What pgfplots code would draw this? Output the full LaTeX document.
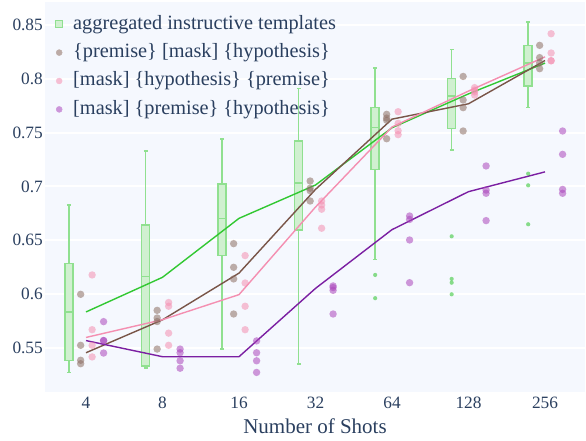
\documentclass[border=0pt]{standalone}
\usepackage{fontspec}
\setmainfont{Liberation Serif}
\usepackage{pgfplots}
\pgfplotsset{compat=1.18}
\definecolor{txt}{RGB}{42,63,95}
\definecolor{bgc}{RGB}{245,248,254}
\definecolor{boxline}{RGB}{144,224,144}
\definecolor{boxfill}{RGB}{208,240,208}
\definecolor{gline}{RGB}{50,200,50}
\definecolor{bline}{RGB}{121,85,72}
\definecolor{pline}{RGB}{244,143,177}
\definecolor{uline}{RGB}{123,31,162}
\definecolor{bpt}{RGB}{188,171,166}
\definecolor{ppt}{RGB}{245,190,211}
\definecolor{upt}{RGB}{204,150,218}
\definecolor{bbase}{RGB}{141,110,99}
\definecolor{pbase}{RGB}{244,143,177}
\definecolor{ubase}{RGB}{171,71,188}
\definecolor{gpt}{RGB}{60,200,60}
\begin{document}
\begin{tikzpicture}
\path[use as bounding box] (0pt,0pt) rectangle (586pt,441pt);
\begin{axis}[
  at={(45pt,49pt)}, anchor=south west,
  scale only axis, width=540pt, height=390pt,
  xmin=-0.536, xmax=6.523, ymin=0.5089, ymax=0.8714,
  axis background/.style={fill=bgc},
  axis line style={draw=none},
  tick style={draw=none},
  xtick={0,1,2,3,4,5,6}, xticklabels={4,8,16,32,64,128,256},
  ytick={0.55,0.6,0.65,0.7,0.75,0.8,0.85},
  yticklabels={0.55,0.6,0.65,0.7,0.75,0.8,0.85},
  ymajorgrids, grid style={white, line width=2pt},
  ticklabel style={font=\fontsize{17.3}{20}\selectfont, text=txt},
  xticklabel style={anchor=base, yshift=-17pt},
  yticklabel style={inner xsep=2pt},
  xlabel={Number of Shots},
  xlabel style={font=\fontsize{21}{24}\selectfont, text=txt, at={(axis description cs:0.5,0)}, anchor=base, yshift=-42pt},
  legend style={at={(axis description cs:0,1)}, anchor=north west, xshift=7pt, yshift=-9pt,
    draw=none, fill=none, font=\fontsize{20.3}{24}\selectfont, text=txt,
    nodes={text height=14pt, text depth=4pt, inner sep=2pt},
    row sep=6.4pt, cells={anchor=west},
    /tikz/every odd column/.append style={column sep=8pt}},
  legend cell align=left,
  unbounded coords=jump,
]
\addlegendimage{legend image code/.code={\draw[boxline, fill=boxfill, line width=1pt] (0pt,-3.5pt) rectangle (7pt,3.5pt);}}
\addlegendentry{aggregated instructive templates}
\addlegendimage{legend image code/.code={\fill[bpt] (3.5pt,0pt) circle (3pt);}}
\addlegendentry{\relax\{premise\} [mask] \{hypothesis\}}
\addlegendimage{legend image code/.code={\fill[ppt] (3.5pt,0pt) circle (3pt);}}
\addlegendentry{\relax[mask] \{hypothesis\} \{premise\}}
\addlegendimage{legend image code/.code={\fill[upt] (3.5pt,0pt) circle (3pt);}}
\addlegendentry{\relax[mask] \{premise\} \{hypothesis\}}

% boxes (Q1 to Q3), half width 0.0525 around x-0.22
\pgfplotsset{mybox/.style={forget plot, draw=boxline, fill=boxfill, line width=1.5pt}}
\addplot[mybox] coordinates {(-0.2725,0.5384) (-0.1675,0.5384) (-0.1675,0.6282) (-0.2725,0.6282)} -- cycle;
\addplot[mybox] coordinates {(0.7275,0.5330) (0.8325,0.5330) (0.8325,0.6640) (0.7275,0.6640)} -- cycle;
\addplot[mybox] coordinates {(1.7275,0.6357) (1.8325,0.6357) (1.8325,0.7024) (1.7275,0.7024)} -- cycle;
\addplot[mybox] coordinates {(2.7275,0.6595) (2.8325,0.6595) (2.8325,0.7424) (2.7275,0.7424)} -- cycle;
\addplot[mybox] coordinates {(3.7275,0.7158) (3.8325,0.7158) (3.8325,0.7732) (3.7275,0.7732)} -- cycle;
\addplot[mybox] coordinates {(4.7275,0.7537) (4.8325,0.7537) (4.8325,0.8001) (4.7275,0.8001)} -- cycle;
\addplot[mybox] coordinates {(5.7275,0.7933) (5.8325,0.7933) (5.8325,0.8311) (5.7275,0.8311)} -- cycle;
% medians, whiskers and caps
\addplot[forget plot, draw=boxline, line width=1.6pt] coordinates {
 (-0.2725,0.5833) (-0.1675,0.5833) (nan,nan)
 (-0.22,0.6282) (-0.22,0.6827) (nan,nan) (-0.245,0.6827) (-0.195,0.6827) (nan,nan)
 (-0.22,0.5384) (-0.22,0.5271) (nan,nan) (-0.245,0.5271) (-0.195,0.5271) (nan,nan)
 (0.7275,0.6161) (0.8325,0.6161) (nan,nan)
 (0.78,0.6640) (0.78,0.7330) (nan,nan) (0.755,0.7330) (0.805,0.7330) (nan,nan)
 (0.78,0.5330) (0.78,0.5310) (nan,nan) (0.755,0.5310) (0.805,0.5310) (nan,nan)
 (1.7275,0.6703) (1.8325,0.6703) (nan,nan)
 (1.78,0.7024) (1.78,0.7443) (nan,nan) (1.755,0.7443) (1.805,0.7443) (nan,nan)
 (1.78,0.6357) (1.78,0.5488) (nan,nan) (1.755,0.5488) (1.805,0.5488) (nan,nan)
 (2.7275,0.7029) (2.8325,0.7029) (nan,nan)
 (2.78,0.7424) (2.78,0.7911) (nan,nan) (2.755,0.7911) (2.805,0.7911) (nan,nan)
 (2.78,0.6595) (2.78,0.5347) (nan,nan) (2.755,0.5347) (2.805,0.5347) (nan,nan)
 (3.7275,0.7549) (3.8325,0.7549) (nan,nan)
 (3.78,0.7732) (3.78,0.8098) (nan,nan) (3.755,0.8098) (3.805,0.8098) (nan,nan)
 (3.78,0.7158) (3.78,0.6322) (nan,nan) (3.755,0.6322) (3.805,0.6322) (nan,nan)
 (4.7275,0.7840) (4.8325,0.7840) (nan,nan)
 (4.78,0.8001) (4.78,0.8273) (nan,nan) (4.755,0.8273) (4.805,0.8273) (nan,nan)
 (4.78,0.7537) (4.78,0.7336) (nan,nan) (4.755,0.7336) (4.805,0.7336) (nan,nan)
 (5.7275,0.8149) (5.8325,0.8149) (nan,nan)
 (5.78,0.8311) (5.78,0.8528) (nan,nan) (5.755,0.8528) (5.805,0.8528) (nan,nan)
 (5.78,0.7933) (5.78,0.7732) (nan,nan) (5.755,0.7732) (5.805,0.7732)
};
% outliers
\addplot[forget plot, only marks, mark=*, mark size=2.1pt, mark options={draw opacity=0, fill=gpt, fill opacity=0.6}] coordinates {
 (3.78,0.6177) (3.78,0.5961)
 (4.78,0.6536) (4.78,0.6140) (4.78,0.6105) (4.78,0.5997)
 (5.78,0.7118) (5.78,0.7010) (5.78,0.6648)};
% points
\addplot[forget plot, only marks, mark=*, mark size=3.7pt, mark options={draw opacity=0, fill=bbase, fill opacity=0.55}] coordinates {
 (-0.07,0.5997) (-0.07,0.5523) (-0.07,0.5384) (-0.07,0.5352)
 (0.93,0.5848) (0.93,0.5777) (0.93,0.5744) (0.93,0.5488)
 (1.93,0.6468) (1.93,0.6248) (1.93,0.6140) (1.93,0.5814)
 (2.93,0.7050) (2.93,0.6983) (2.93,0.6960) (2.93,0.6864)
 (3.93,0.7670) (3.93,0.7635) (3.93,0.7615) (3.93,0.7443)
 (4.93,0.8022) (4.93,0.7803) (4.93,0.7732) (4.93,0.7515)
 (5.93,0.8311) (5.93,0.8197) (5.93,0.8148) (5.93,0.8094)};
\addplot[forget plot, only marks, mark=*, mark size=3.7pt, mark options={draw opacity=0, fill=pbase, fill opacity=0.55}] coordinates {
 (0.08,0.6177) (0.08,0.5668) (0.08,0.5523) (0.08,0.5415)
 (1.08,0.5921) (1.08,0.5886) (1.08,0.5636) (1.08,0.5523)
 (2.08,0.6357) (2.08,0.6102) (2.08,0.5886) (2.08,0.5668)
 (3.08,0.6864) (3.08,0.6827) (3.08,0.6788) (3.08,0.6611)
 (4.08,0.7694) (4.08,0.7586) (4.08,0.7517) (4.08,0.7481)
 (5.08,0.7918) (5.08,0.7895) (5.08,0.7878) (5.08,0.7849)
 (6.08,0.8419) (6.08,0.8240) (6.08,0.8168) (6.08,0.8168)};
\addplot[forget plot, only marks, mark=*, mark size=3.7pt, mark options={draw opacity=0, fill=ubase, fill opacity=0.55}] coordinates {
 (0.23,0.5743) (0.23,0.5567) (0.23,0.5567) (0.23,0.5451)
 (1.23,0.5488) (1.23,0.5454) (1.23,0.5379) (1.23,0.5310)
 (2.23,0.5564) (2.23,0.5454) (2.23,0.5379) (2.23,0.5271)
 (3.23,0.6075) (3.23,0.6060) (3.23,0.6034) (3.23,0.5814)
 (4.23,0.6725) (4.23,0.6693) (4.23,0.6502) (4.23,0.6105)
 (5.23,0.7190) (5.23,0.6966) (5.23,0.6936) (5.23,0.6682)
 (6.23,0.7515) (6.23,0.7298) (6.23,0.6972) (6.23,0.6936)};
% median lines
\addplot[forget plot, gline, line width=1.4pt] coordinates {(0,0.5833) (1,0.6155) (2,0.6703) (3,0.7013) (4,0.7545) (5,0.7860) (6,0.8146)};
\addplot[forget plot, bline, line width=1.4pt] coordinates {(0,0.5454) (1,0.5760) (2,0.6194) (3,0.6972) (4,0.7625) (5,0.7768) (6,0.8170)};
\addplot[forget plot, pline, line width=1.4pt] coordinates {(0,0.5596) (1,0.5761) (2,0.5994) (3,0.6808) (4,0.7552) (5,0.7886) (6,0.8204)};
\addplot[forget plot, uline, line width=1.4pt] coordinates {(0,0.5567) (1,0.5417) (2,0.5417) (3,0.6052) (4,0.6598) (5,0.6951) (6,0.7135)};
\end{axis}
\end{tikzpicture}
\end{document}
